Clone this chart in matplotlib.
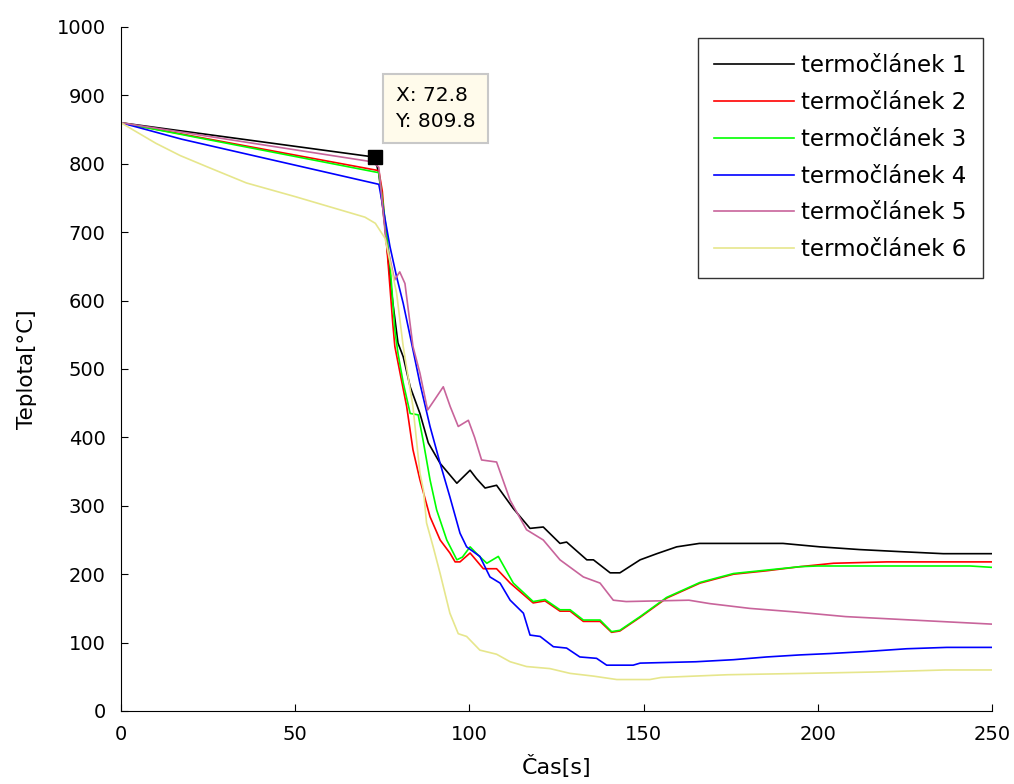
import matplotlib
matplotlib.use("Agg")
import matplotlib.pyplot as plt
import numpy as np

plt.rcParams['font.family'] = ['DejaVu Sans']

labels = ["termočlánek 1", "termočlánek 2", "termočlánek 3",
          "termočlánek 4", "termočlánek 5", "termočlánek 6"]
colors = ["#000000", "#FF0000", "#00FF00", "#0000FF", "#C8649B", "#E6E68C"]

t1_x = [0, 72.8, 74, 75.8, 77.2, 78, 79.5, 81, 83, 85.8, 88.2, 91.6, 96.4, 100.2, 102, 104.5, 107.8,
        112.6, 117.4, 121.2, 126, 127.9, 133.7, 135.6, 140.4, 143.2, 149, 153.8, 159.5, 166, 190,
        200.6, 212, 223.6, 236, 250]
t1_y = [860, 809.8, 786, 706, 635, 598, 538, 518, 474, 435, 392, 362, 333, 352, 340, 326, 330,
        296, 267, 269, 245, 247, 221, 221, 202, 202, 221, 230, 240, 245, 245,
        240, 236, 233, 230, 230]

t2_x = [0, 74, 75, 76.6, 78, 78.6, 80.1, 82, 83.8, 85.8, 86.6, 88.7, 91.6, 94.4, 95.9, 97.3, 100.2,
        104, 107.8, 111.7, 118.3, 121.7, 126, 128.9, 132.7, 137.5, 140.8, 143.2, 149, 156.6, 166.2,
        175.8, 185.3, 194.9, 204.5, 219.8, 250]
t2_y = [860, 790, 760, 659, 567, 533, 494, 445, 382, 338, 323, 284, 250, 231, 218, 218, 231,
        208, 208, 187, 158, 161, 146, 146, 131, 131, 115, 117, 137, 165, 187,
        200, 205, 211, 216, 218, 218]

t3_x = [0, 74, 75.5, 77.2, 78.6, 79.5, 81, 83, 85.3, 86.7, 88.7, 90.6, 93.5, 96.4, 98, 100.2, 102.5,
        105, 108.3, 112.6, 118.3, 121.7, 126, 128.9, 132.7, 137.5, 140.8, 143.2, 149, 156.6, 166.2,
        175.8, 185.3, 194.9, 200, 243.7, 250]
t3_y = [860, 787, 730, 655, 557, 523, 480, 435, 433, 396, 338, 294, 250, 221, 225, 240, 228,
        216, 226, 187, 160, 163, 148, 148, 133, 133, 116, 118, 138, 166, 188,
        201, 206, 211, 212, 212, 210]

t4_x = [0, 17.4, 74, 74.3, 77.2, 79.1, 81, 83.4, 85.8, 88.7, 91.6, 94.4, 97.3, 99.2, 103, 105.9,
        108.8, 111.7, 115.5, 117.4, 120.3, 124.1, 127.9, 131.7, 136.5, 139.4, 147, 149, 165, 175.8,
        185.3, 194.9, 203.5, 214, 225.5, 237, 250]
t4_y = [860, 836, 770, 762, 679, 635, 596, 538, 479, 416, 362, 313, 260, 240, 226, 196,
        187, 162, 143, 111, 109, 94, 92, 79, 77, 67, 67, 70, 72, 75,
        79, 82, 84, 87, 91, 93, 93]

t5_x = [0, 72, 74, 76, 78.5, 80, 81.5, 83.8, 85.8, 88, 90, 92.5, 94.5, 96.8, 99.7, 101.5, 103.5,
        107.8, 111.7, 116.4, 121.2, 126, 132.7, 137.5, 141.3, 145, 163, 169, 180.5, 193, 208, 227, 250]
t5_y = [860, 803, 795, 690, 630, 642, 625, 533, 494, 440, 455, 474, 445, 416, 425, 400, 367,
        364, 308, 265, 250, 221, 196, 187, 162, 160, 162, 157, 150, 145, 138, 133, 127]

t6_x = [0, 5, 10, 17, 25, 36, 50, 60, 70, 73, 75.8, 79.1, 81, 83.8, 85.8, 86.8, 87.7, 89.6, 91.6,
        94.4, 96.8, 99.2, 103, 107.8, 111.7, 116.4, 123.1, 128.9, 135.6, 142.3, 151.8, 155, 174, 196,
        216, 236.5, 250]
t6_y = [860, 845, 830, 812, 795, 772, 752, 737, 722, 713, 691, 611, 533, 445, 348, 323, 275, 240, 201,
        143, 113, 109, 89, 83, 72, 65, 62, 55, 51, 46, 46, 49, 53, 55,
        57, 60, 60]

series_x = [t1_x, t2_x, t3_x, t4_x, t5_x, t6_x]
series_y = [t1_y, t2_y, t3_y, t4_y, t5_y, t6_y]

tip_x, tip_y = 72.8, 809.8

fig = plt.figure(figsize=(10.14, 7.84), dpi=100)
ax = fig.add_axes([121/1014, 1-711/784, 871/1014, 684/784])

for xs, ys, c, lab in zip(series_x, series_y, colors, labels):
    ax.plot(xs, ys, color=c, lw=1.2, label=lab)

ax.plot([tip_x], [tip_y], marker='s', ms=10, color='black', ls='none', zorder=5)
ax.text(78.8, 881, "X: %.1f\nY: %.1f" % (tip_x, tip_y), fontsize=14.5, ha='left', va='center',
        linespacing=1.45,
        bbox=dict(boxstyle='square,pad=0.6', fc='#FFFBEB', ec='#C8C8C8', lw=1.5), zorder=6)

ax.set_xlim(0, 250)
ax.set_ylim(0, 1000)
ax.set_xticks(np.arange(0, 251, 50))
ax.set_yticks(np.arange(0, 1001, 100))
ax.spines['top'].set_visible(False)
ax.spines['right'].set_visible(False)
ax.tick_params(direction='in', length=5, width=0.8, labelsize=14)
ax.tick_params(axis='y', pad=11)
ax.tick_params(axis='x', pad=10)
ax.set_xlabel("Čas[s]", fontsize=16, labelpad=8)
ax.set_ylabel("Teplota[°C]", fontsize=15.5, labelpad=14)

leg = ax.legend(loc='upper right', bbox_to_anchor=(0.9897, 0.984), borderaxespad=0,
                fontsize=16.5, frameon=True, fancybox=False, edgecolor='black',
                handlelength=3.5, handletextpad=0.3, labelspacing=0.6, borderpad=0.72)
leg.get_frame().set_linewidth(1.0)

fig.savefig("out.png", dpi=100)
